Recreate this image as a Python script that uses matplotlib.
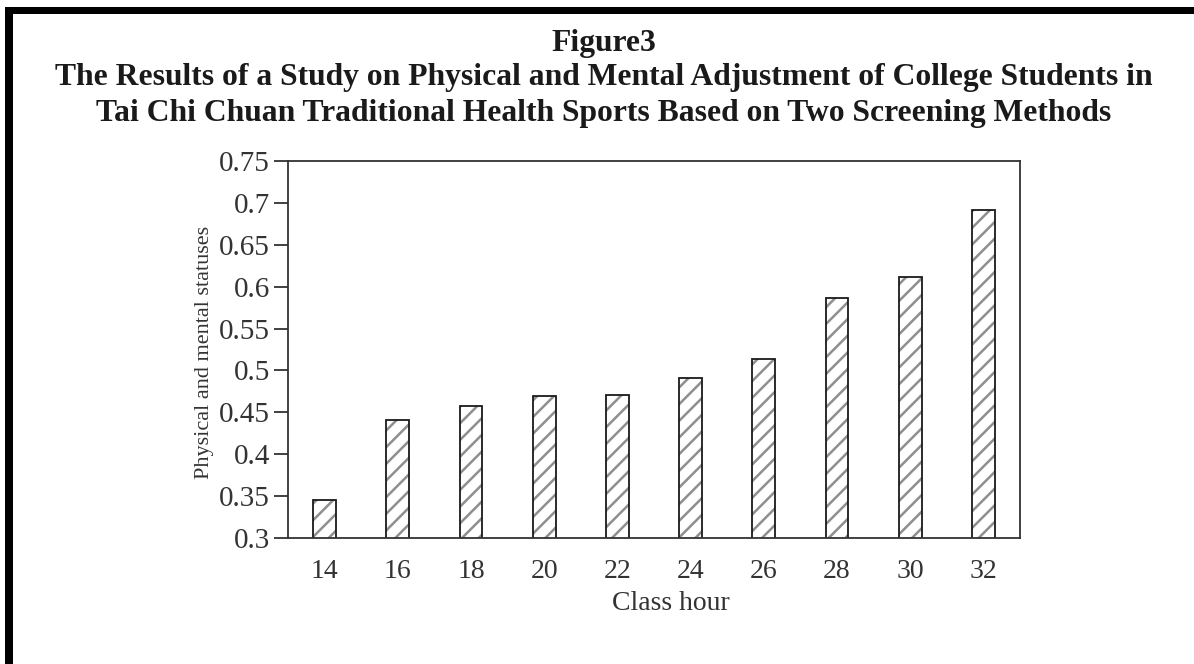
import matplotlib.pyplot as plt
from matplotlib.patches import Rectangle

class_hour = [14, 16, 18, 20, 22, 24, 26, 28, 30, 32]
status = [0.345, 0.441, 0.457, 0.470, 0.471, 0.491, 0.514, 0.587, 0.612, 0.692]
y_ticks = [0.3, 0.35, 0.4, 0.45, 0.5, 0.55, 0.6, 0.65, 0.7, 0.75]
y_labels = ['0.3', '0.35', '0.4', '0.45', '0.5', '0.55', '0.6', '0.65', '0.7', '0.75']

plt.rcParams['font.family'] = ['Liberation Serif', 'DejaVu Serif']
plt.rcParams['hatch.linewidth'] = 1.8

fig = plt.figure(figsize=(11.94, 6.64), dpi=100)
W, H = 1194, 664

# black frame on left and top
fig.add_artist(Rectangle((5 / W, 0), 8 / W, 1 - 7 / H, transform=fig.transFigure,
                         facecolor='black', edgecolor='none'))
fig.add_artist(Rectangle((5 / W, 1 - 14 / H), 1, 7 / H, transform=fig.transFigure,
                         facecolor='black', edgecolor='none'))

title_lines = ['Figure3',
               'The Results of a Study on Physical and Mental Adjustment of College Students in',
               'Tai Chi Chuan Traditional Health Sports Based on Two Screening Methods']
for line, yc in zip(title_lines, [44, 78, 113]):
    fig.text(604 / W, 1 - yc / H, line, ha='center', va='center',
             fontsize=22.8, fontweight='bold', color='#1a1a1a')

ax = fig.add_axes([288 / W, 1 - 538 / H, (1020 - 288) / W, (538 - 161) / H])
ax.bar(class_hour, status, width=0.62, color='white', edgecolor='#8f8f8f',
       hatch='//', linewidth=0)
ax.bar(class_hour, status, width=0.62, fill=False, edgecolor='#1a1a1a', linewidth=1.3)

ax.set_xlim(13, 33)
ax.set_ylim(0.3, 0.75)
ax.set_xticks(class_hour)
ax.set_xticklabels([str(c) for c in class_hour])
ax.set_yticks(y_ticks)
ax.set_yticklabels(y_labels)
ax.tick_params(axis='x', length=0, pad=15, labelsize=20, colors='#333333')
ax.tick_params(axis='y', direction='out', length=10, width=1.3, pad=3,
               labelsize=21, colors='#333333')
for s in ax.spines.values():
    s.set_color('#333333')
    s.set_linewidth(1.3)

ax.set_xlabel('Class hour', fontsize=20, color='#333333')
ax.xaxis.set_label_coords((671 - 288) / (1020 - 288), -(604 - 538) / (538 - 161))
ax.xaxis.label.set_va('center')
ax.set_ylabel('Physical and mental statuses', fontsize=16, color='#333333')
ax.yaxis.set_label_coords(-(288 - 204) / (1020 - 288), (538 - 352) / (538 - 161))
ax.yaxis.label.set_va('center')

plt.savefig('out.png', dpi=100)
